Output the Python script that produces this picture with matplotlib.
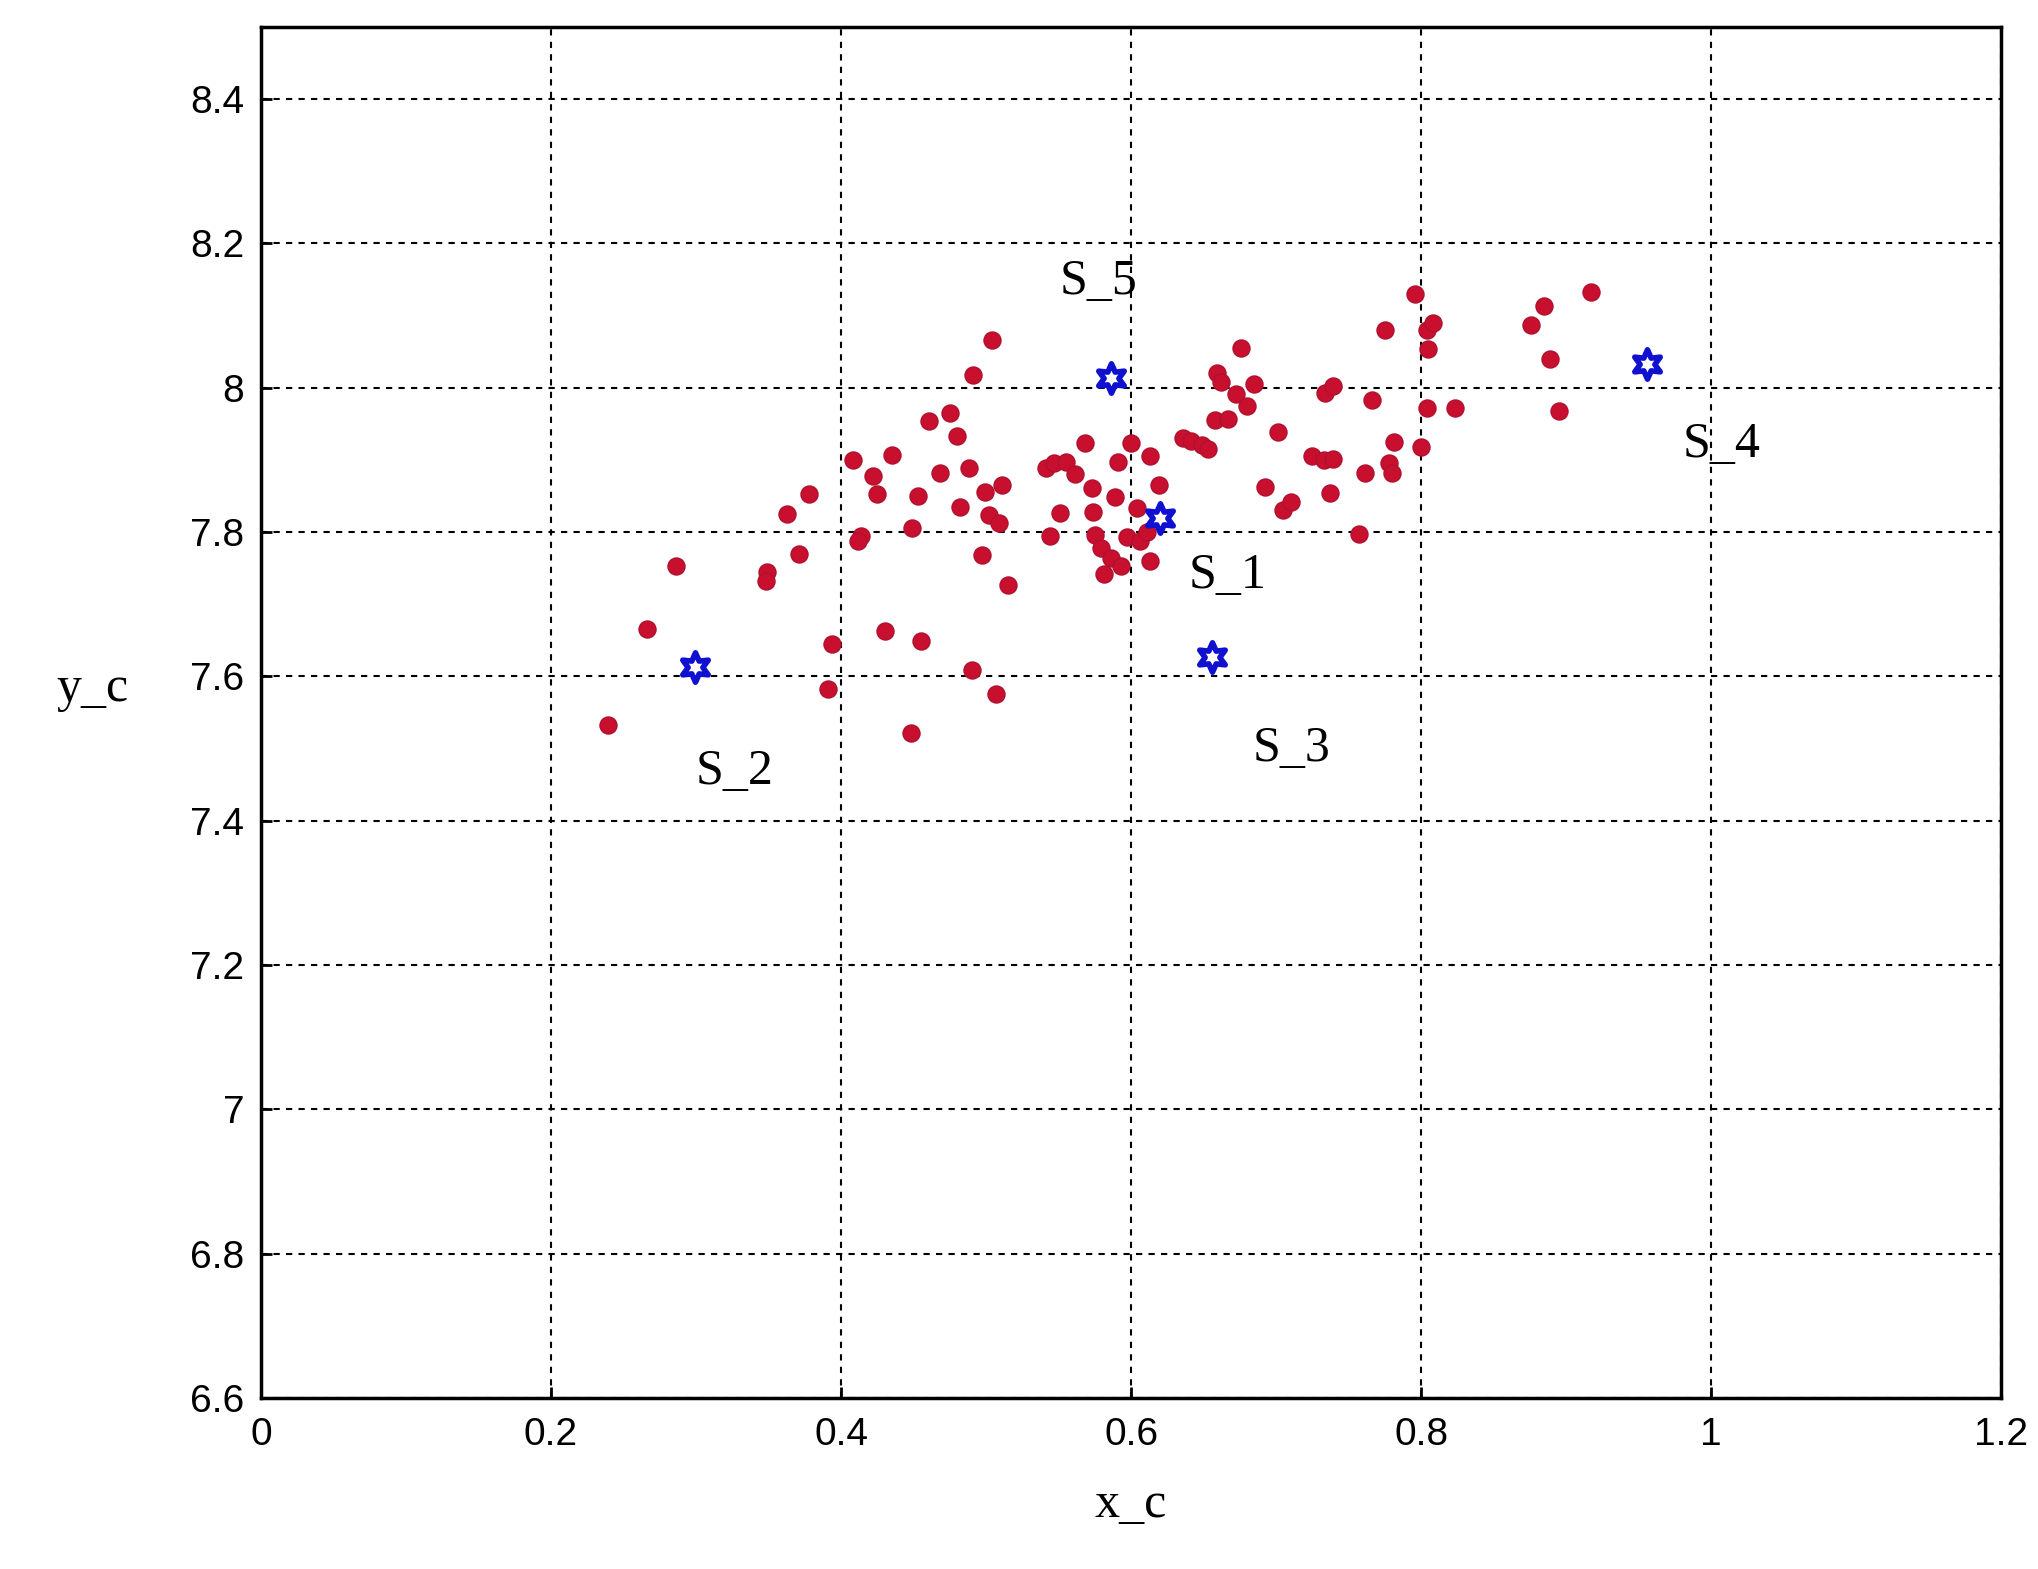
import numpy as np
import matplotlib.pyplot as plt

# sample points (x_c, y_c)
pts_x = [0.239, 0.266, 0.286, 0.363, 0.378, 0.371, 0.349, 0.348, 0.394, 0.391, 0.408,
         0.414, 0.412, 0.422, 0.425, 0.435, 0.430, 0.448, 0.455, 0.449, 0.453, 0.461,
         0.468, 0.475, 0.480, 0.482, 0.488, 0.491, 0.490, 0.497, 0.499, 0.507, 0.502,
         0.511, 0.515, 0.509, 0.504, 0.541, 0.547, 0.551, 0.544, 0.555, 0.561, 0.568,
         0.573, 0.574, 0.575, 0.579, 0.581, 0.586, 0.589, 0.591, 0.593, 0.597, 0.600,
         0.604, 0.606, 0.611, 0.613, 0.619, 0.613, 0.636, 0.641, 0.649, 0.653, 0.658,
         0.659, 0.662, 0.667, 0.672, 0.676, 0.680, 0.685, 0.692, 0.701, 0.705, 0.710,
         0.725, 0.733, 0.739, 0.737, 0.734, 0.739, 0.757, 0.761, 0.766, 0.775, 0.778,
         0.781, 0.780, 0.800, 0.796, 0.804, 0.805, 0.808, 0.804, 0.823, 0.876, 0.885,
         0.889, 0.895, 0.917]
pts_y = [7.533, 7.665, 7.753, 7.825, 7.853, 7.770, 7.744, 7.732, 7.644, 7.582, 7.899,
         7.794, 7.788, 7.877, 7.852, 7.907, 7.663, 7.522, 7.649, 7.805, 7.850, 7.954,
         7.882, 7.965, 7.933, 7.835, 7.888, 8.017, 7.609, 7.768, 7.855, 7.575, 7.823,
         7.865, 7.726, 7.812, 8.066, 7.888, 7.895, 7.826, 7.794, 7.897, 7.880, 7.923,
         7.861, 7.828, 7.796, 7.778, 7.742, 7.764, 7.848, 7.897, 7.753, 7.793, 7.923,
         7.833, 7.788, 7.800, 7.905, 7.865, 7.760, 7.930, 7.926, 7.921, 7.915, 7.955,
         8.020, 8.007, 7.957, 7.991, 8.055, 7.974, 8.005, 7.862, 7.938, 7.830, 7.841,
         7.905, 7.899, 7.901, 7.854, 7.993, 8.002, 7.797, 7.882, 7.983, 8.080, 7.895,
         7.924, 7.882, 7.918, 8.130, 8.080, 8.053, 8.089, 7.971, 7.971, 8.086, 8.113,
         8.039, 7.967, 8.133]

# cluster centres
s_names = ['S_1', 'S_2', 'S_3', 'S_4', 'S_5']
s_x = [0.620, 0.299, 0.656, 0.956, 0.586]
s_y = [7.819, 7.613, 7.626, 8.032, 8.013]
lab_x = [0.640, 0.300, 0.684, 0.980, 0.551]
lab_y = [7.739, 7.467, 7.499, 7.921, 8.147]

plt.rcParams['font.family'] = ['Liberation Sans', 'DejaVu Sans']
fig = plt.figure(figsize=(20.38, 15.69), dpi=100)
ax = fig.add_axes([0.128, 0.109, 0.854, 0.874])

ax.scatter(pts_x, pts_y, s=150, color='#c8102e', edgecolors='#b01030', zorder=3)
ax.scatter(s_x, s_y, s=450, marker=(6, 1, 0), facecolors='white', edgecolors='#1010d0',
           linewidths=4, zorder=4)
for name, lx, ly in zip(s_names, lab_x, lab_y):
    ax.text(lx, ly, name, fontsize=36, family='Liberation Serif', va='center')

ax.set_xlim(0, 1.2)
ax.set_ylim(6.6, 8.5)
ax.set_xticks(np.arange(0, 1.21, 0.2))
ax.set_xticklabels(['0', '0.2', '0.4', '0.6', '0.8', '1', '1.2'])
ax.set_yticks(np.arange(6.6, 8.41, 0.2))
ax.set_yticklabels(['6.6', '6.8', '7', '7.2', '7.4', '7.6', '7.8', '8', '8.2', '8.4'])
ax.tick_params(labelsize=28, direction='in', length=8, width=2)
ax.tick_params(axis='x', pad=14)
ax.tick_params(axis='y', pad=12)
ax.grid(True, color='black', linestyle=(0, (3, 3)), linewidth=1.5)
for sp in ax.spines.values():
    sp.set_linewidth(2.5)
ax.set_xlabel('x_c', fontsize=36, family='Liberation Serif', labelpad=20)
ax.set_ylabel('y_c', fontsize=36, family='Liberation Serif', rotation=0, labelpad=70)

fig.savefig('out.png', dpi=100)
